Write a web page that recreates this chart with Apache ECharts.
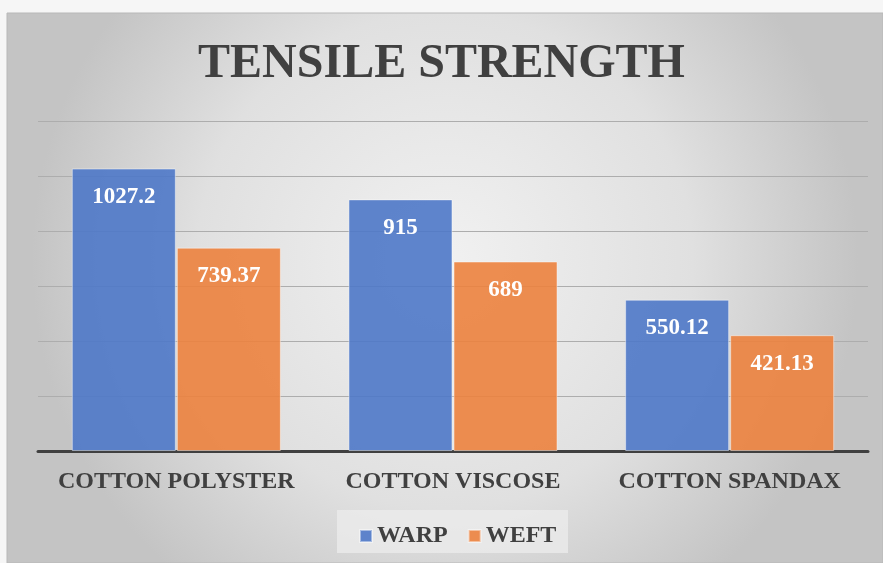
<!DOCTYPE html>
<html>
<head>
<meta charset="utf-8">
<script src="https://cdn.jsdelivr.net/npm/echarts@6/dist/echarts.min.js"></script>
<style>
  html, body { margin: 0; padding: 0; background: #f6f6f6; }
  #chart { width: 883px; height: 563px; }
</style>
</head>
<body>
<div id="chart"></div>
<script>
    // data
    var categories = ['COTTON POLYSTER', 'COTTON VISCOSE', 'COTTON SPANDAX'];
    var warp = [1027.2, 915, 550.12];
    var weft = [739.37, 689, 421.13];

    var serif = '"Liberation Serif", "Times New Roman", serif';

    var labelStyle = {
        show: true,
        position: 'insideTop',
        distance: 17,
        color: '#fff',
        fontFamily: serif,
        fontWeight: 'bold',
        fontSize: 23
    };

    var option = {
        backgroundColor: 'transparent',
        graphic: [{
            type: 'rect',
            z: -10,
            shape: { x: 7, y: 13, width: 876, height: 550 },
            style: {
                fill: new echarts.graphic.RadialGradient(0.5, 0.45, 0.75, [
                    { offset: 0, color: '#f1f1f1' },
                    { offset: 0.6, color: '#e0e0e0' },
                    { offset: 1, color: '#c4c4c4' }
                ]),
                stroke: '#b8b8b8',
                lineWidth: 1
            }
        }, {
            type: 'rect',
            z: -5,
            shape: { x: 337, y: 510, width: 231, height: 43 },
            style: { fill: 'rgba(236,236,236,0.75)' }
        }],
        title: {
            text: 'TENSILE STRENGTH',
            left: 'center',
            top: 36,
            textStyle: {
                fontFamily: serif,
                fontWeight: 'bold',
                fontSize: 48,
                color: '#404040'
            }
        },
        legend: {
            data: ['WARP', 'WEFT'],
            left: 354,
            top: 519,
            itemWidth: 12,
            itemHeight: 12,
            itemGap: 20,
            icon: 'rect',
            textStyle: {
                fontFamily: serif,
                fontWeight: 'bold',
                fontSize: 24,
                color: '#404040'
            }
        },
        grid: {
            left: 38,
            right: 15,
            top: 121,
            bottom: 112,
            containLabel: false
        },
        xAxis: {
            type: 'category',
            data: categories,
            axisTick: { show: false },
            axisLine: { lineStyle: { color: '#404040', width: 3 } },
            axisLabel: {
                interval: 0,
                margin: 19,
                fontFamily: serif,
                fontWeight: 'bold',
                fontSize: 24,
                color: '#404040'
            }
        },
        yAxis: {
            type: 'value',
            min: 0,
            max: 1200,
            interval: 200,
            axisLabel: { show: false },
            axisLine: { show: false },
            axisTick: { show: false },
            splitLine: { lineStyle: { color: '#adadad', width: 1 } }
        },
        series: [{
            name: 'WARP',
            type: 'bar',
            data: warp,
            barWidth: 104,
            barGap: '1%',
            itemStyle: {
                color: 'rgba(78,120,200,0.9)',
                borderColor: 'rgba(255,255,255,0.45)',
                borderWidth: 1
            },
            label: labelStyle
        }, {
            name: 'WEFT',
            type: 'bar',
            data: weft,
            barWidth: 104,
            itemStyle: {
                color: 'rgba(236,130,62,0.9)',
                borderColor: 'rgba(255,255,255,0.45)',
                borderWidth: 1
            },
            label: labelStyle
        }]
    };

    var myChart = echarts.init(document.getElementById('chart'));
    myChart.setOption(option);
</script>
</body>
</html>
